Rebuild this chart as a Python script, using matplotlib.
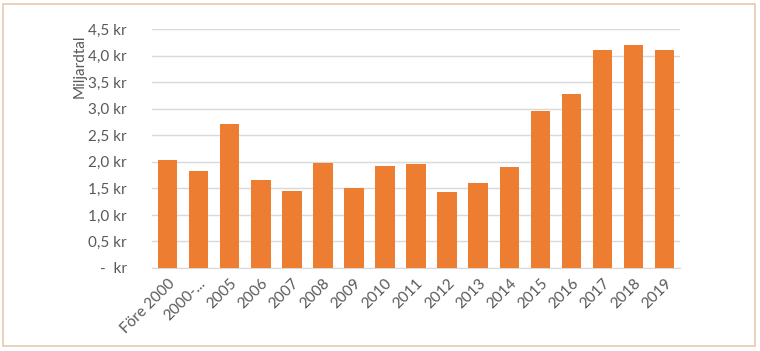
import matplotlib.pyplot as plt
from matplotlib.patches import Rectangle

categories = ['Före 2000', '2000-...', '2005', '2006', '2007', '2008', '2009', '2010',
              '2011', '2012', '2013', '2014', '2015', '2016', '2017', '2018', '2019']
values = [2.03, 1.83, 2.71, 1.66, 1.45, 1.98, 1.51, 1.92, 1.96, 1.43, 1.60, 1.90,
          2.96, 3.28, 4.11, 4.20, 4.11]
yticks = [0, 0.5, 1.0, 1.5, 2.0, 2.5, 3.0, 3.5, 4.0, 4.5]
ytick_labels = ['-  kr', '0,5 kr', '1,0 kr', '1,5 kr', '2,0 kr', '2,5 kr',
                '3,0 kr', '3,5 kr', '4,0 kr', '4,5 kr']

plt.rcParams['font.family'] = ['Lato', 'DejaVu Sans']
text_color = '#595959'

fig = plt.figure(figsize=(7.6, 3.51), dpi=100)
ax = fig.add_axes([0.2, 0.2365, 0.695, 0.6805])

x = range(len(categories))
ax.bar(x, values, width=0.63, color='#ED7D31', zorder=3)

ax.set_xlim(-0.5, len(categories) - 0.5)
ax.set_ylim(0, 4.5)
ax.set_yticks(yticks)
ax.set_yticklabels(ytick_labels, fontsize=11, color=text_color)
ax.set_xticks(list(x))
ax.set_xticklabels(categories, rotation=45, ha='right', rotation_mode='anchor',
                   fontsize=11, color=text_color)
ax.tick_params(axis='y', length=0, pad=18)
ax.tick_params(axis='x', length=0, pad=6)
ax.grid(axis='y', color='#D9D9D9', linewidth=1, zorder=0)
for s in ['top', 'right', 'left']:
    ax.spines[s].set_visible(False)
ax.spines['bottom'].set_color('#D9D9D9')
ax.set_ylabel('Miljardtal', fontsize=11, color=text_color)
ax.yaxis.set_label_coords(-0.124, 0.845)

# outer frame
fig.patches.append(Rectangle((0.004, 0.014), 0.99, 0.976, transform=fig.transFigure,
                             fill=False, edgecolor='#E8C9B0', linewidth=1.2))

fig.savefig('out.png', dpi=100)
